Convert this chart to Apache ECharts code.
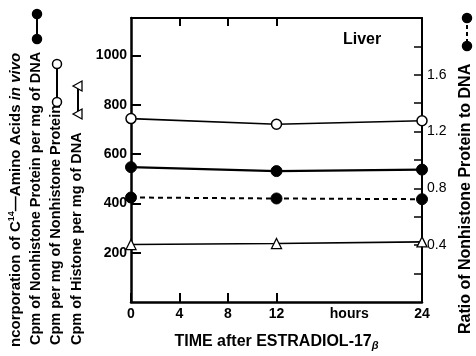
<!DOCTYPE html>
<html><head><meta charset="utf-8">
<script src="https://cdn.jsdelivr.net/npm/echarts@6/dist/echarts.min.js"></script>
<style>html,body{margin:0;padding:0;background:#fff}#c{width:476px;height:356px}</style>
</head><body><div id="c"></div>
<script>
// ---- data ----
const hours = [0, 12, 24];
const cpmNonhistonePerDNA = [547, 531, 537];      // filled circles, solid
const cpmPerNonhistone = [744, 721, 735];         // open circles
const cpmHistonePerDNA = [233, 237, 244];         // open triangles
const ratioNonhistoneToDNA = [0.736, 0.729, 0.724]; // filled circles, dashed (right axis)
const xTickValues = [0, 4, 8, 12, 24];
const xLabelValues = [0, 4, 8, 12, 18, 24];
const xUnitLabel = 'hours';
const leftTickValues = [200, 400, 600, 800, 1000];
const rightLabelValues = [0.4, 0.8, 1.2, 1.6];
const rightTickValues = [0.2, 0.4, 0.6, 0.8, 1.0, 1.2, 1.4, 1.6, 1.8];

const FF = '"Liberation Sans", Arial, sans-serif';
const pair = (vals) => hours.map((h, i) => [h, vals[i]]);
const chart = echarts.init(document.getElementById('c'), null, {renderer: 'canvas'});
const axisLine = {show: true, onZero: false, lineStyle: {color: '#000', width: 2.5}};
const lbl = {color: '#000', fontFamily: FF, fontWeight: 'bold', fontSize: 14};

const rotText = (x, y, text, size, rich) => ({
  type: 'text', x: x, y: y, rotation: Math.PI / 2,
  style: {text: text, fill: '#000', fontFamily: FF, fontWeight: 'bold', fontSize: size,
    align: 'left', verticalAlign: 'middle', rich: rich || {}}
});
const dot = (cx, cy, filled) => ({type: 'circle', shape: {cx, cy, r: 4.5},
  style: {fill: filled ? '#000' : '#fff', stroke: '#000', lineWidth: 1.5}});
const seg = (x, y1, y2, dashed) => ({type: 'line', shape: {x1: x, y1: y1, x2: x, y2: y2},
  style: {stroke: '#000', lineWidth: 2, lineDash: dashed ? [4, 3] : null}});
const tri = (cx, cy) => ({type: 'polygon', shape: {points: [[cx - 5, cy], [cx + 4, cy - 5], [cx + 4, cy + 5]]},
  style: {fill: '#fff', stroke: '#000', lineWidth: 1.3}});

chart.setOption({
  animation: false,
  backgroundColor: '#fff',
  grid: {left: 131, right: 54, top: 18, bottom: 50, containLabel: false},
  xAxis: [{
    type: 'value', min: 0, max: 24, position: 'bottom',
    axisLine: axisLine,
    axisTick: {show: true, inside: true, length: 9, lineStyle: {color: '#000', width: 2}, customValues: xTickValues},
    axisLabel: Object.assign({}, lbl, {margin: 5, customValues: xLabelValues,
      formatter: v => (v === 18 ? xUnitLabel : String(v))}),
    splitLine: {show: false},
    name: 'TIME after ESTRADIOL-17{sub|β}', nameLocation: 'middle', nameGap: 30,
    nameTextStyle: {color: '#000', fontFamily: FF, fontWeight: 'bold', fontSize: 16,
      rich: {sub: {fontFamily: FF, fontWeight: 'bold', fontSize: 11, fontStyle: 'italic', verticalAlign: 'bottom', padding: [8, 0, 0, 0]}}}
  }, {
    type: 'value', min: 0, max: 24, position: 'top',
    axisLine: {show: true, onZero: false, lineStyle: {color: '#000', width: 2}},
    axisTick: {show: true, inside: true, length: 8, lineStyle: {color: '#000', width: 2}, customValues: [4, 8, 12]},
    axisLabel: {show: false}, splitLine: {show: false}
  }],
  yAxis: [{
    type: 'value', min: 0, max: 1152, position: 'left',
    axisLine: axisLine,
    axisTick: {show: true, inside: true, length: 10, lineStyle: {color: '#000', width: 2}, customValues: leftTickValues},
    axisLabel: Object.assign({}, lbl, {margin: 4, customValues: leftTickValues, formatter: v => String(v)}),
    splitLine: {show: false}
  }, {
    type: 'value', min: 0, max: 2.0, position: 'right',
    axisLine: {show: true, onZero: false, lineStyle: {color: '#000', width: 2}},
    axisTick: {show: true, inside: true, length: 8, lineStyle: {color: '#000', width: 1.5}, customValues: rightTickValues},
    axisLabel: Object.assign({}, lbl, {fontWeight: 'normal', margin: 5, customValues: rightLabelValues,
      formatter: v => v.toFixed(1)}),
    splitLine: {show: false}
  }],
  series: [
    {type: 'line', name: 'Cpm per mg of Nonhistone Protein', data: pair(cpmPerNonhistone), xAxisIndex: 0, yAxisIndex: 0,
      symbol: 'circle', symbolSize: 10, clip: false,
      itemStyle: {color: '#fff', borderColor: '#000', borderWidth: 1.5},
      lineStyle: {color: '#000', width: 1.6}, z: 3},
    {type: 'line', name: 'Cpm of Nonhistone Protein per mg of DNA', data: pair(cpmNonhistonePerDNA), xAxisIndex: 0, yAxisIndex: 0,
      symbol: 'circle', symbolSize: 11, clip: false,
      itemStyle: {color: '#000', borderColor: '#000', borderWidth: 1},
      lineStyle: {color: '#000', width: 2.2}, z: 3},
    {type: 'line', name: 'Cpm of Histone per mg of DNA', data: pair(cpmHistonePerDNA), xAxisIndex: 0, yAxisIndex: 0,
      symbol: 'triangle', symbolSize: 10, clip: false,
      itemStyle: {color: '#fff', borderColor: '#000', borderWidth: 1.3},
      lineStyle: {color: '#000', width: 1.6}, z: 3},
    {type: 'line', name: 'Ratio of Nonhistone Protein to DNA', data: pair(ratioNonhistoneToDNA), xAxisIndex: 0, yAxisIndex: 1,
      symbol: 'circle', symbolSize: 11, clip: false,
      itemStyle: {color: '#000', borderColor: '#000', borderWidth: 1},
      lineStyle: {color: '#000', width: 2, type: [5, 4]}, z: 3}
  ],
  graphic: [
    {type: 'text', x: 343, y: 40, style: {text: 'Liver', fill: '#000', fontFamily: FF, fontWeight: 'bold', fontSize: 16, align: 'left', verticalAlign: 'middle'}},
    rotText(16, 347, 'ncorporation of C{sup|14}—Amino Acids {it|in vivo}', 15, {
      sup: {fontFamily: FF, fontWeight: 'bold', fontSize: 9, verticalAlign: 'top', padding: [0, 0, 8, 0]},
      it: {fontFamily: FF, fontWeight: 'bold', fontStyle: 'italic', fontSize: 15}
    }),
    rotText(36, 345, 'Cpm of Nonhistone Protein per mg of DNA', 14.5),
    rotText(56, 345, 'Cpm per mg of Nonhistone Protein', 14.5),
    rotText(77, 345, 'Cpm of Histone per mg of DNA', 14.5),
    rotText(466, 334, 'Ratio of Nonhistone Protein to DNA', 16),
    seg(37, 14, 39, false), dot(37, 14, true), dot(37, 39, true),
    seg(57, 64, 102, false), dot(57, 64, false), dot(57, 102, false),
    seg(78, 86, 114, false), tri(78, 86), tri(78, 114),
    seg(467, 18, 46, true), dot(467, 18, true), dot(467, 46, true)
  ]
});
</script>
</body></html>
